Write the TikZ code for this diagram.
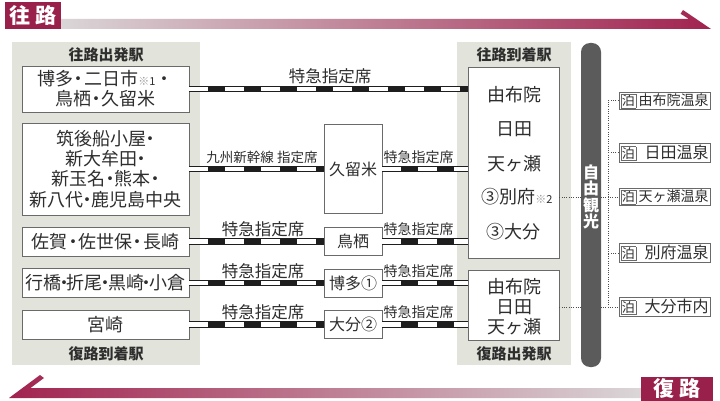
\documentclass[tikz,border=0pt]{standalone}
\usepackage{fontspec}
\setmainfont{Noto Sans CJK JP}
\definecolor{panelc}{HTML}{E2E3DA}
\definecolor{bord}{HTML}{6A6A6A}
\definecolor{txt}{HTML}{2E2E2E}
\definecolor{railc}{HTML}{1E1E1E}
\definecolor{wine}{HTML}{A1234F}
\definecolor{winedark}{HTML}{98204A}
\definecolor{winemid}{HTML}{BD6A86}
\definecolor{lightc}{HTML}{DAD6D7}
\definecolor{barc}{HTML}{5B5B5B}
\definecolor{kome}{HTML}{9A9A9A}
\newcommand{\myfs}[1]{\fontsize{#1pt}{#1pt}\selectfont}
\newcommand{\myfl}[2]{\fontsize{#1pt}{#2pt}\selectfont}
\newcommand{\nd}[1]{\makebox[#1em][c]{・}}
\newcommand{\kome}[1]{{\color{kome}\myfs{11}※}{\myfs{11}#1}}
\newcommand{\tb}{{\setlength{\fboxsep}{0.6pt}\setlength{\fboxrule}{0.8pt}\fcolorbox{bord}{white}{\myfs{13}泊}}}
\tikzset{
  stbox/.style={draw=bord, line width=0.9pt, fill=white, text=txt, inner sep=0pt, align=center},
  lbl/.style={text=txt, inner sep=0pt},
  ttl/.style={text=txt, inner sep=0pt, font=\bfseries\myfs{15}},
  rail/.style={draw=white, line width=4.4pt, dash pattern=on 19pt off 17pt,
    preaction={draw=railc, line width=6.4pt, solid}},
  dotline/.style={draw=txt!85, line width=1pt, dash pattern=on 1pt off 1.3pt},
  tomari/.style={draw=bord, line width=0.8pt, fill=white, inner sep=1.5pt, minimum height=17pt, text=txt},
  banner/.style={fill=winedark, text=white, inner sep=0pt, font=\bfseries\myfs{21}}
}
\begin{document}
\begin{tikzpicture}[x=1pt,y=-1pt]
\useasboundingbox (0,0) rectangle (720,401);
\fill[white] (0,0) rectangle (720,401);

% banners
\shade[left color=lightc, middle color=winemid, right color=wine]
  (60,19) -- (689,19) -- (680.6,13.8) -- (683,10) -- (711,29) -- (60,29) -- cycle;
\node[banner, minimum width=56pt, minimum height=27pt] (ou) at (33,15.5) {往\hspace{5pt}路};
\shade[left color=wine, middle color=winemid, right color=lightc]
  (641,388) -- (30.5,388) -- (44,378) -- (40,375) -- (9,398) -- (641,398) -- cycle;
\node[banner, minimum width=72pt, minimum height=24pt] (fk) at (677,389) {復\hspace{5pt}路};

% panels
\fill[panelc] (12,42) rectangle (200,365);
\fill[panelc] (457,42) rectangle (571,365);

% titles
\node[ttl] (tl1) at (106,55) {往路出発駅};
\node[ttl] (tl2) at (106,354) {復路到着駅};
\node[ttl] (tl3) at (514,55) {往路到着駅};
\node[ttl] (tl4) at (514,354) {復路出発駅};

% left boxes
\node[stbox, minimum width=167pt, minimum height=46pt, font=\myfl{18}{20}] (b1) at (105.5,89)
  {博多\nd{0.6}二日市\kome{1}・\\鳥栖\nd{0.6}久留米};
\node[stbox, minimum width=167pt, minimum height=92pt, font=\myfl{18}{20.3}] (b2) at (105.5,169)
  {筑後船小屋\nd{0.5}\\新大牟田\nd{0.5}\\新玉名\nd{0.5}熊本\nd{0.5}\\新八代\nd{0.4}鹿児島中央};
\node[stbox, minimum width=167pt, minimum height=29pt, font=\myfs{18}] (b3) at (105.5,241.5)
  {佐賀\nd{0.6}佐世保\nd{0.6}長崎};
\node[stbox, minimum width=167pt, minimum height=29pt, font=\myfs{18}] (b4) at (105.5,283)
  {行橋\nd{0.3}折尾\nd{0.3}黒崎\nd{0.3}小倉};
\node[stbox, minimum width=167pt, minimum height=29pt, font=\myfs{18}] (b5) at (105.5,324.5)
  {宮崎};

% middle boxes
\node[stbox, minimum width=58pt, minimum height=89pt, font=\myfs{16}] (kur) at (353,169) {久留米};
\node[stbox, minimum width=58pt, minimum height=28pt, font=\myfs{16}] (tos) at (353,241.5) {鳥栖};
\node[stbox, minimum width=58pt, minimum height=28pt, font=\myfs{16}] (hak) at (353,283) {博多①};
\node[stbox, minimum width=58pt, minimum height=28pt, font=\myfs{16}] (oit) at (353,324.5) {大分②};

% right boxes
\node[stbox, minimum width=91pt, minimum height=191pt] (rt) at (513.5,162.5) {};
\node[stbox, minimum width=91pt, minimum height=70pt] (rb) at (513.5,305) {};
\node[lbl, font=\myfs{18}] (r1) at (514,95) {由布院};
\node[lbl, font=\myfs{18}] (r2) at (514,129) {日田};
\node[lbl, font=\myfs{18}] (r3) at (514,164) {天ヶ瀬};
\node[lbl, font=\myfs{18}] (bep) at (517,197) {③別府\kome{2}};
\node[lbl, font=\myfs{18}] (r5) at (513,232) {③大分};
\node[lbl, font=\myfl{18}{20}, align=center] (rbt) at (514,307) {由布院\\日田\\天ヶ瀬};

% rails
\draw[rail] (b1.east) -- (b1.east -| rt.west);
\draw[rail] (b2.east) -- (kur.west);
\draw[rail] (kur.east) -- (kur.east -| rt.west);
\draw[rail] (b3.east) -- (tos.west);
\draw[rail] (tos.east) -- (tos.east -| rt.west);
\draw[rail] (b4.east) -- (hak.west);
\draw[rail] (hak.east) -- (hak.east -| rb.west);
\draw[rail] (b5.east) -- (oit.west);
\draw[rail] (oit.east) -- (oit.east -| rb.west);

% rail labels
\node[lbl, font=\myfs{16.5}] (l1) at (330,76) {特急指定席};
\node[lbl, font=\myfs{13.5}] (l2a) at (262,157) {九州新幹線 指定席};
\node[lbl, font=\myfs{14}] (l2b) at (418.5,157) {特急指定席};
\node[lbl, font=\myfs{16.5}] (l3a) at (263,229) {特急指定席};
\node[lbl, font=\myfs{14}] (l3b) at (418.5,229) {特急指定席};
\node[lbl, font=\myfs{16.5}] (l4a) at (263,271) {特急指定席};
\node[lbl, font=\myfs{14}] (l4b) at (418.5,271) {特急指定席};
\node[lbl, font=\myfs{16.5}] (l5a) at (263,312) {特急指定席};
\node[lbl, font=\myfs{14}] (l5b) at (418.5,312) {特急指定席};

% tomari boxes
\node[tomari] (t1) at (664.5,101) {\makebox[88pt]{\tb\hfill\myfs{14}由布院温泉}};
\node[tomari] (t2) at (664.5,153) {\makebox[88pt]{\tb\hfill\myfs{16}日田温泉}};
\node[tomari] (t3) at (664.5,197) {\makebox[88pt]{\tb\hfill\myfs{14}天ヶ瀬温泉}};
\node[tomari] (t4) at (664.5,253) {\makebox[88pt]{\tb\hfill\myfs{16}別府温泉}};
\node[tomari] (t5) at (664.5,307) {\makebox[88pt]{\tb\hfill\myfs{16}大分市内}};

% dotted connectors
\coordinate (vx) at (608,0);
\draw[dotline] (rt.east |- t3) -- (t3.west);
\draw[dotline] (rb.east |- t5) -- (t5.west);
\draw[dotline] (t1.west) -| (vx |- t5);
\draw[dotline] (t2.west) -- (vx |- t2);
\draw[dotline] (t4.west) -- (vx |- t4);

% free sightseeing bar
\node[fill=barc, rounded corners=9pt, minimum width=20pt, minimum height=324pt, inner sep=0pt] (bar) at (591,205) {};
\node[text=white, font=\bfseries\myfl{16}{16.5}, align=center, inner sep=0pt] (jy) at (591,197) {自\\由\\観\\光};
\end{tikzpicture}
\end{document}
